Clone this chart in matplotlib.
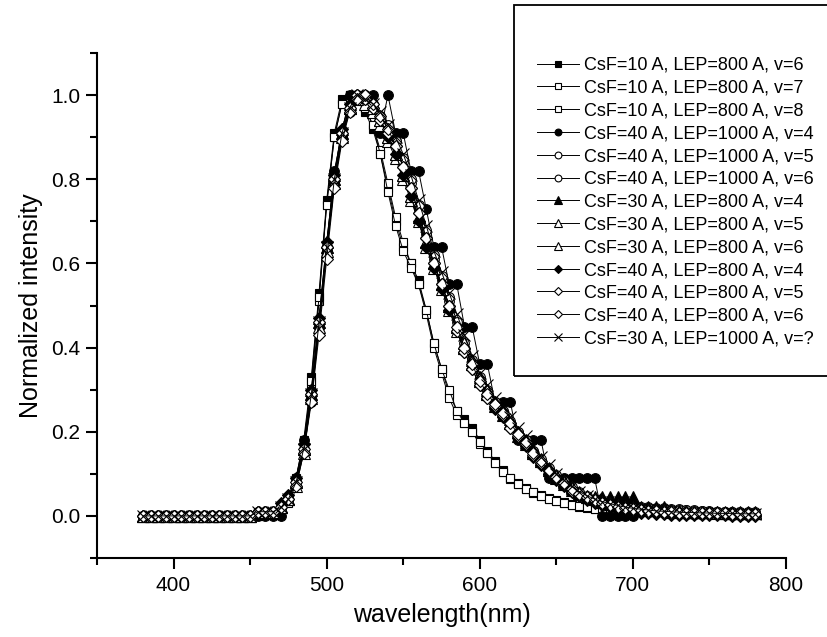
import numpy as np
import matplotlib
matplotlib.use("Agg")
import matplotlib.pyplot as plt
from matplotlib.patches import Rectangle
from matplotlib.ticker import MultipleLocator, FormatStrFormatter

plt.rcParams['font.family'] = ['Liberation Sans', 'DejaVu Sans']

# wavelength grid (nm)
wl_full = np.arange(380, 781, 5)     # 81 points (shorter series use the first part)

labels = [
    "CsF=10 A, LEP=800 A, v=6", "CsF=10 A, LEP=800 A, v=7", "CsF=10 A, LEP=800 A, v=8",
    "CsF=40 A, LEP=1000 A, v=4", "CsF=40 A, LEP=1000 A, v=5", "CsF=40 A, LEP=1000 A, v=6",
    "CsF=30 A, LEP=800 A, v=4", "CsF=30 A, LEP=800 A, v=5", "CsF=30 A, LEP=800 A, v=6",
    "CsF=40 A, LEP=800 A, v=4", "CsF=40 A, LEP=800 A, v=5", "CsF=40 A, LEP=800 A, v=6",
    "CsF=30 A, LEP=1000 A, v=?",
]

sq_v6 = [0.00,0.00,0.00,0.00,0.00,0.00,0.00,0.00,0.00,0.00,0.00,0.00,0.00,0.00,0.00,0.01,0.01,
         0.01,0.02,0.04,0.09,0.18,0.33,0.53,0.75,0.91,0.99,1.00,
         0.99,0.96,0.92,0.86,0.78,0.70,0.64,0.60,0.56,0.49,0.41,0.35,0.29,
         0.25,0.23,0.21,0.18,0.155,0.13,0.11,0.09,0.078,0.067,0.058,0.05,0.043,0.037,0.032,0.028,
         0.024,0.02,0.018,0.015,0.012,0.01,0.008,0.005]
sq_v7 = [0.00,0.00,0.00,0.00,0.00,0.00,0.00,0.00,0.00,0.00,0.00,0.00,0.00,0.00,0.00,0.00,0.01,
         0.01,0.02,0.03,0.08,0.17,0.31,0.51,0.74,0.90,0.98,1.00,
         0.99,0.97,0.93,0.87,0.79,0.71,0.65,0.60,0.55,0.48,0.40,0.34,0.28,
         0.24,0.22,0.20,0.17,0.15,0.125,0.105,0.088,0.075,0.064,0.055,0.047,0.04,0.035,0.03,0.026,
         0.022,0.019,0.016,0.013,0.011,0.009,0.007,0.005]
sq_v8 = [0.00,0.00,0.00,0.00,0.00,0.00,0.00,0.00,0.00,0.00,0.00,0.00,0.00,0.00,0.00,0.01,0.01,
         0.01,0.02,0.04,0.08,0.17,0.32,0.52,0.74,0.90,0.98,1.00,
         1.00,0.97,0.93,0.86,0.77,0.69,0.63,0.59,0.55,0.49,0.41,0.35,0.30,
         0.25,0.22,0.20,0.175,0.15,0.125,0.105,0.09,0.076,0.065,0.056,0.048,0.041,0.036,0.031,0.027,
         0.023,0.02,0.017,0.014,0.011,0.009,0.007,0.005]
ci_v4 = [0.00,0.00,0.00,0.00,0.00,0.00,0.00,0.00,0.00,0.00,0.00,0.00,0.00,0.00,0.00,0.00,0.00,
         0.00,0.00,0.04,0.09,0.18,0.27,0.45,0.64,0.82,0.91,1.00,
         1.00,1.00,1.00,0.91,1.00,0.91,0.91,0.82,0.82,0.73,0.64,0.64,0.55,
         0.55,0.45,0.45,0.36,0.36,0.27,0.27,0.27,0.18,0.18,0.18,0.18,0.09,0.09,0.09,0.09,
         0.09,0.09,0.09,0.00,0.00,0.00,0.00,0.00]
ci_v5 = [0.00,0.00,0.00,0.00,0.00,0.00,0.00,0.00,0.00,0.00,0.00,0.00,0.00,0.00,0.00,0.01,0.01,
         0.01,0.02,0.04,0.08,0.16,0.29,0.45,0.63,0.79,0.90,0.97,
         1.00,0.99,0.98,0.95,0.92,0.89,0.84,0.79,0.73,0.67,0.61,0.56,0.51,
         0.45,0.40,0.36,0.32,0.29,0.27,0.25,0.22,0.20,0.18,0.155,0.13,0.11,0.095,0.08,0.065,
         0.054,0.045,0.038,0.032,0.028,0.025,0.022,0.02,
         0.02,0.02,0.018,0.018,0.017,0.016,0.015,0.014,0.012,0.011,0.01,0.01,0.01,0.01,0.01,0.01]
ci_v6 = [0.00,0.00,0.00,0.00,0.00,0.00,0.00,0.00,0.00,0.00,0.00,0.00,0.00,0.00,0.00,0.01,0.01,
         0.01,0.02,0.04,0.08,0.15,0.28,0.45,0.63,0.79,0.90,0.96,
         0.99,1.00,0.98,0.95,0.93,0.89,0.85,0.80,0.74,0.68,0.62,0.57,0.52,
         0.46,0.41,0.37,0.33,0.30,0.27,0.25,0.225,0.20,0.18,0.155,0.135,0.115,0.098,0.082,0.068,
         0.056,0.047,0.04,0.034,0.029,0.025,0.022,0.02,
         0.019,0.018,0.017,0.016,0.015,0.014,0.013,0.012,0.011,0.01,0.01,0.009,0.009,0.008,0.008,0.008]
tr_v4 = [0.00,0.00,0.00,0.00,0.00,0.00,0.00,0.00,0.00,0.00,0.00,0.00,0.00,0.00,0.00,0.01,0.01,
         0.01,0.02,0.04,0.08,0.16,0.29,0.46,0.64,0.80,0.91,0.97,
         1.00,0.99,0.97,0.94,0.90,0.86,0.81,0.76,0.71,0.65,0.60,0.55,0.50,
         0.45,0.40,0.36,0.32,0.29,0.26,0.24,0.22,0.19,0.17,0.15,0.13,0.11,0.09,0.075,0.062,
         0.052,0.045,0.045,0.045,0.045,0.045,0.045,0.045,
         0.02,0.02,0.02,0.02,0.01,0.01,0.01,0.01,0.01,0.01,0.01,0.01,0.01,0.01,0.01,0.01]
tr_v5 = [0.00,0.00,0.00,0.00,0.00,0.00,0.00,0.00,0.00,0.00,0.00,0.00,0.00,0.00,0.00,0.01,0.01,
         0.01,0.02,0.04,0.08,0.16,0.30,0.47,0.65,0.81,0.92,0.98,
         1.00,0.98,0.96,0.93,0.89,0.85,0.80,0.75,0.70,0.64,0.59,0.54,0.49,
         0.44,0.40,0.36,0.32,0.29,0.27,0.25,0.22,0.20,0.175,0.15,0.13,0.11,0.095,0.08,0.066,
         0.055,0.046,0.04,0.034,0.03,0.026,0.022,0.02,
         0.018,0.016,0.015,0.014,0.013,0.012,0.011,0.01,0.01,0.009,0.009,0.008,0.008,0.008,0.007,0.007]
tr_v6 = [0.00,0.00,0.00,0.00,0.00,0.00,0.00,0.00,0.00,0.00,0.00,0.00,0.00,0.00,0.00,0.01,0.01,
         0.01,0.02,0.04,0.07,0.15,0.28,0.45,0.63,0.79,0.90,0.97,
         0.99,1.00,0.97,0.94,0.90,0.86,0.81,0.76,0.71,0.65,0.60,0.55,0.50,
         0.45,0.41,0.37,0.33,0.30,0.27,0.25,0.23,0.20,0.18,0.155,0.135,0.115,0.097,0.082,0.068,
         0.056,0.047,0.04,0.034,0.029,0.025,0.022,0.019,
         0.017,0.015,0.014,0.013,0.012,0.011,0.01,0.01,0.009,0.009,0.008,0.008,0.007,0.007,0.007,0.006]
di_v4 = [0.00,0.00,0.00,0.00,0.00,0.00,0.00,0.00,0.00,0.00,0.00,0.00,0.00,0.00,0.00,0.01,0.01,
         0.01,0.03,0.05,0.09,0.17,0.30,0.47,0.65,0.81,0.92,0.98,
         1.00,0.99,0.97,0.94,0.90,0.86,0.81,0.76,0.70,0.64,0.59,0.54,0.49,
         0.44,0.39,0.35,0.31,0.28,0.255,0.235,0.21,0.185,0.165,0.14,0.12,0.10,0.085,0.07,0.057,
         0.047,0.038,0.031,0.025,0.02,0.016,0.012,0.01,
         0.008,0.006,0.005,0.004,0.003,0.003,0.002,0.002,0.002,0.001,0.001,0.001,0.0,0.0,0.0,0.0]
di_v5 = [0.00,0.00,0.00,0.00,0.00,0.00,0.00,0.00,0.00,0.00,0.00,0.00,0.00,0.00,0.00,0.01,0.01,
         0.01,0.02,0.04,0.08,0.16,0.29,0.46,0.64,0.80,0.91,0.97,
         1.00,0.99,0.97,0.94,0.91,0.88,0.83,0.78,0.72,0.66,0.60,0.55,0.50,
         0.44,0.39,0.35,0.31,0.28,0.26,0.24,0.21,0.19,0.17,0.145,0.125,0.107,0.09,0.075,0.06,
         0.05,0.042,0.036,0.03,0.025,0.022,0.018,0.015,
         0.012,0.01,0.01,0.008,0.008,0.007,0.006,0.006,0.005,0.005,0.005,0.004,0.004,0.003,0.003,0.003]
di_v6 = [0.00,0.00,0.00,0.00,0.00,0.00,0.00,0.00,0.00,0.00,0.00,0.00,0.00,0.00,0.00,0.01,0.01,
         0.01,0.02,0.04,0.07,0.15,0.27,0.43,0.61,0.78,0.89,0.96,
         0.99,1.00,0.98,0.95,0.92,0.88,0.83,0.78,0.72,0.66,0.60,0.55,0.50,
         0.45,0.40,0.36,0.32,0.29,0.265,0.245,0.22,0.195,0.175,0.15,0.13,0.11,0.093,0.078,0.064,
         0.053,0.044,0.037,0.031,0.026,0.022,0.019,0.016,
         0.014,0.012,0.011,0.01,0.009,0.008,0.008,0.007,0.007,0.006,0.006,0.006,0.005,0.005,0.005,0.005]
x_v = [0.00,0.00,0.00,0.00,0.00,0.00,0.00,0.00,0.00,0.00,0.00,0.00,0.00,0.00,0.00,0.01,0.01,
       0.01,0.02,0.04,0.08,0.16,0.29,0.46,0.64,0.80,0.91,0.97,
       1.00,0.99,0.98,0.96,0.93,0.90,0.86,0.81,0.75,0.69,0.63,0.58,0.53,
       0.48,0.43,0.38,0.34,0.31,0.28,0.26,0.235,0.21,0.19,0.165,0.14,0.12,0.10,0.085,0.07,
       0.058,0.048,0.04,0.034,0.029,0.025,0.021,0.018,
       0.016,0.014,0.012,0.011,0.01,0.009,0.008,0.008,0.007,0.007,0.006,0.006,0.006,0.005,0.005,0.005]

series = [sq_v6, sq_v7, sq_v8, ci_v4, ci_v5, ci_v6, tr_v4, tr_v5, tr_v6, di_v4, di_v5, di_v6, x_v]
markers = ['s', 's', 's', 'o', 'o', 'o', '^', '^', '^', 'D', 'D', 'D', 'x']
filled = [True, False, False, True, False, False, True, False, False, True, False, False, True]
msizes = [6, 6, 6, 7, 7, 7, 8, 8, 8, 6.5, 6.5, 6.5, 8]

W, H = 828, 637
fig = plt.figure(figsize=(W / 100, H / 100), dpi=100)
ax = fig.add_axes([97 / W, 1 - 558 / H, (786 - 97) / W, (558 - 53) / H])

handles = []
for vals, mk, fl, ms, lab in zip(series, markers, filled, msizes, labels):
    y = np.array(vals)
    x = wl_full[:len(y)]
    h, = ax.plot(x, y, color='black', lw=0.7, marker=mk, ms=ms,
                 mfc='black' if fl else 'white', mec='black', mew=0.8, label=lab)
    handles.append(h)

ax.set_xlim(350, 800)
ax.set_ylim(-0.1, 1.1)
ax.xaxis.set_major_locator(MultipleLocator(100))
ax.xaxis.set_minor_locator(MultipleLocator(50))
ax.yaxis.set_major_locator(MultipleLocator(0.2))
ax.yaxis.set_minor_locator(MultipleLocator(0.1))
ax.yaxis.set_major_formatter(FormatStrFormatter('%.1f'))
for s in ['top', 'right']:
    ax.spines[s].set_visible(False)
for s in ['left', 'bottom']:
    ax.spines[s].set_linewidth(1.5)
ax.tick_params(which='major', direction='out', length=8, width=1.5, labelsize=15)
ax.tick_params(axis='x', which='major', pad=5)
ax.tick_params(axis='y', which='major', pad=4)
ax.tick_params(which='minor', direction='out', length=5, width=1.5)
ax.set_xlabel('wavelength(nm)', fontsize=18, labelpad=6)
ax.set_ylabel('Normalized intensity', fontsize=18, labelpad=6)

fig.patches.append(Rectangle((514 / W, 1 - 376 / H), 0.5, (376 - 5) / H,
                             transform=fig.transFigure, fill=False, lw=1.3, ec='black'))
fig.legend(handles, labels, loc='upper left', bbox_to_anchor=(537 / W, 1 - 57 / H),
           frameon=False, fontsize=13, handlelength=2.3, handletextpad=0.3,
           labelspacing=0.32, borderpad=0, borderaxespad=0, markerscale=0.7)

fig.savefig('out.png', dpi=100)
